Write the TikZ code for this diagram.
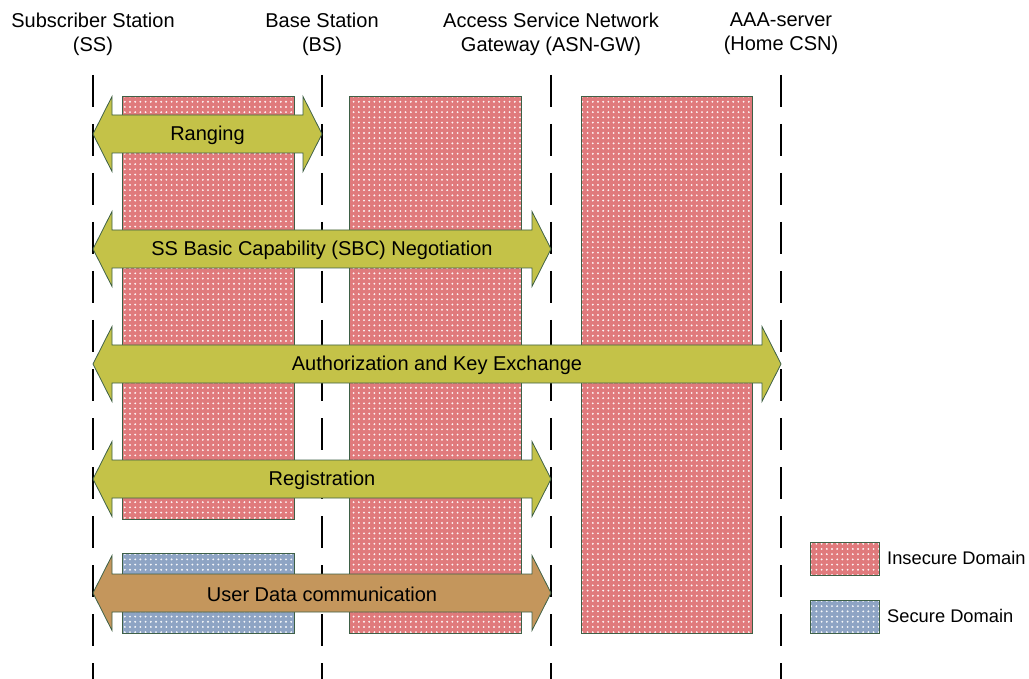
\documentclass[tikz,border=0pt]{standalone}
\usepackage{fontspec}
\setmainfont{Liberation Sans}
\usetikzlibrary{patterns.meta}

\definecolor{insecureRed}{RGB}{224,122,124}
\definecolor{secureBlue}{RGB}{142,164,196}
\definecolor{edgeGreen}{RGB}{62,96,70}
\definecolor{phaseOlive}{RGB}{196,194,72}
\definecolor{dataBrown}{RGB}{196,150,92}

% white dot grid laid over the domain fills
\tikzdeclarepattern{
  name=domaindots,
  type=uncolored,
  bottom left={(-2.6pt,-2.6pt)},
  top right={(2.6pt,2.6pt)},
  tile size={(5.2pt,5.2pt)},
  code={\fill (0pt,0pt) circle (1.05pt);}
}

\tikzset{
  lifeline/.style={line width=2.4pt, dash pattern=on 32pt off 17pt},
  % fill, then the dot grid, then the outline on top
  insecure/.style={fill=insecureRed,
    postaction={pattern={domaindots}, pattern color=white!92!insecureRed},
    postaction={draw=edgeGreen, line width=0.8pt}},
  secure/.style={fill=secureBlue,
    postaction={pattern={domaindots}, pattern color=white!92!secureBlue},
    postaction={draw=edgeGreen, line width=0.8pt}},
  phase/.style={draw=edgeGreen, line width=0.8pt, line join=miter},
  label/.style={font=\fontsize{20}{24}\selectfont, text=black, inner sep=0pt, align=center},
  legendlabel/.style={label, font=\fontsize{18.3}{22}\selectfont, anchor=west},
}

% double-headed phase arrow: #1 name, #2 left x, #3 right x, #4 centre y, #5 fill, #6 text
\newcommand{\phasearrow}[6]{%
  \path[phase, fill=#5]
    (#2,#4) -- (#2+19,#4-37.5) -- (#2+19,#4-19) -- (#3-19,#4-19) -- (#3-19,#4-37.5)
    -- (#3,#4) -- (#3-19,#4+37.5) -- (#3-19,#4+19) -- (#2+19,#4+19) -- (#2+19,#4+37.5) -- cycle;
  \node[label] (#1) at ({(#2+#3)/2},#4+1) {#6};
}

\begin{document}
\begin{tikzpicture}[x=1pt,y=-1pt]
\useasboundingbox (0,0) rectangle (1029,679);

% entity headings
\node[label] (ss)  at (93,34)  {Subscriber Station\\(SS)};
\node[label] (bs)  at (322,34) {Base Station\\(BS)};
\node[label] (asn) at (551,34) {Access Service Network\\Gateway (ASN-GW)};
\node[label] (aaa) at (781,34) {AAA-server\\(Home CSN)};

% dashed lifelines
\foreach \n/\x in {lss/93, lbs/322, lasn/551, laaa/781} {
  \coordinate (\n-top) at (\x,75);
  \coordinate (\n-bot) at (\x,679);
  \draw[lifeline] (\n-top) -- (\n-bot);
}

% domain regions
\path[insecure] (122,96) rectangle (294,519);
\path[secure]   (122,553) rectangle (294,633);
\path[insecure] (349,96) rectangle (521,633);
\path[insecure] (581,96) rectangle (752,633);

% protocol phases
\phasearrow{ranging}{93}{322}{134}{phaseOlive}{Ranging}
\phasearrow{sbc}{93}{551}{249}{phaseOlive}{SS Basic Capability (SBC) Negotiation}
\phasearrow{auth}{93}{781}{364}{phaseOlive}{Authorization and Key Exchange}
\phasearrow{reg}{93}{551}{479}{phaseOlive}{Registration}
\phasearrow{data}{93}{551}{593}{dataBrown}{User Data communication}

% legend
\path[insecure] (810,542) rectangle (879,575);
\node[legendlabel] (leg-insecure) at (887,558) {Insecure Domain};
\path[secure] (810,600) rectangle (879,633);
\node[legendlabel] (leg-secure) at (887,616) {Secure Domain};
\end{tikzpicture}
\end{document}
